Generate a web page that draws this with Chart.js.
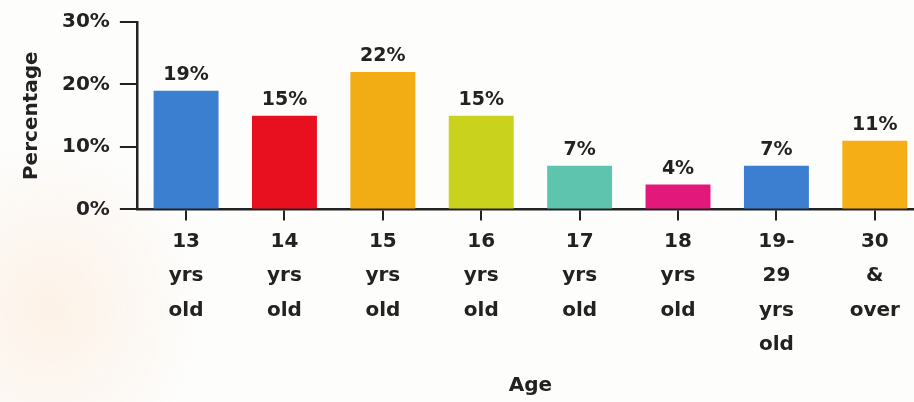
<!DOCTYPE html>
<html>
<head>
<meta charset="utf-8">
<script src="https://cdn.jsdelivr.net/npm/chart.js@4.4.1/dist/chart.umd.min.js"></script>
<style>
  html, body { margin: 0; padding: 0; overflow: hidden; }
  body {
    width: 914px; height: 402px;
    background: radial-gradient(ellipse 150px 170px at 50px 310px, rgba(252, 230, 210, 0.5), rgba(255, 255, 255, 0) 100%), #fdfdfc;
  }
  #wrap { position: absolute; left: 0; top: 0; width: 924px; height: 402px; }
</style>
</head>
<body>
<div id="wrap"><canvas id="ageChart"></canvas></div>
<script>
const ageLabels = [
  ['13', 'yrs', 'old'],
  ['14', 'yrs', 'old'],
  ['15', 'yrs', 'old'],
  ['16', 'yrs', 'old'],
  ['17', 'yrs', 'old'],
  ['18', 'yrs', 'old'],
  ['19-', '29', 'yrs', 'old'],
  ['30', '&', 'over']
];
const percentages = [19, 15, 22, 15, 7, 4, 7, 11];
const barColors = ['#3b7fd0', '#e8101f', '#f3ad14', '#c9d31d', '#5fc4ae', '#e2187b', '#3c7ed0', '#f5ae16'];
const yTicks = [0, 10, 20, 30];

const ink = '#222222';
const fontFamily = '"DejaVu Sans", sans-serif';

// value labels above each bar
const barValueLabels = {
  id: 'barValueLabels',
  afterDatasetsDraw(chart) {
    const ctx = chart.ctx;
    const meta = chart.getDatasetMeta(0);
    ctx.save();
    ctx.fillStyle = ink;
    ctx.font = `bold 19px ${fontFamily}`;
    ctx.textAlign = 'center';
    ctx.textBaseline = 'bottom';
    meta.data.forEach((bar, i) => {
      ctx.fillText(percentages[i] + '%', bar.x, bar.y - 6);
    });
    ctx.restore();
  }
};

new Chart(document.getElementById('ageChart').getContext('2d'), {
  type: 'bar',
  data: {
    labels: ageLabels,
    datasets: [{
      data: percentages,
      backgroundColor: barColors,
      barPercentage: 0.66,
      categoryPercentage: 1
    }]
  },
  options: {
    responsive: true,
    maintainAspectRatio: false,
    animation: false,
    layout: { padding: { top: 9, left: 20, right: 0, bottom: 4 } },
    plugins: { legend: { display: false }, tooltip: { enabled: false } },
    scales: {
      x: {
        border: { display: true, color: ink, width: 2.5 },
        grid: { display: true, offset: false, drawOnChartArea: false, drawTicks: true, tickLength: 11, color: ink, lineWidth: 2 },
        ticks: { color: ink, font: { family: fontFamily, size: 20, weight: 'bold', lineHeight: 1.72 }, padding: 4, maxRotation: 0, autoSkip: false },
        title: { display: true, text: 'Age', color: ink, font: { family: fontFamily, size: 20, weight: 'bold' }, padding: { top: 8, bottom: 0 } }
      },
      y: {
        min: 0,
        max: 30,
        afterBuildTicks: axis => { axis.ticks = yTicks.map(v => ({ value: v })); },
        border: { display: true, color: ink, width: 2.5 },
        grid: { display: true, drawOnChartArea: false, drawTicks: true, tickLength: 17, color: ink, lineWidth: 2 },
        ticks: { color: ink, font: { family: fontFamily, size: 20, weight: 'bold' }, padding: 10, callback: v => v + '%' },
        title: { display: true, text: 'Percentage', color: ink, font: { family: fontFamily, size: 20, weight: 'bold' }, padding: { top: 0, bottom: 8 } }
      }
    }
  },
  plugins: [barValueLabels]
});
</script>
</body>
</html>
